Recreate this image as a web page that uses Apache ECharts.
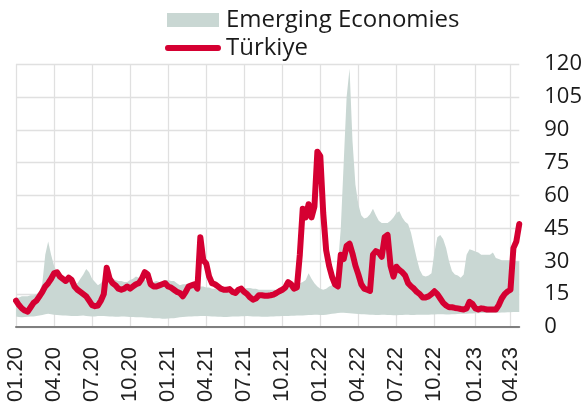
<!DOCTYPE html>
<html>
<head>
<meta charset="utf-8">
<script src="https://cdn.jsdelivr.net/npm/echarts@6/dist/echarts.min.js"></script>
<style>
  html, body { margin: 0; padding: 0; background: #fff; }
  #chart { width: 585px; height: 409px; }
</style>
</head>
<body>
<div id="chart"></div>
<script>
// weekly observations starting 01.01.2020
const startDate = '2020-01-01';

// quarter ticks on the x axis
const quarterStarts = ['2020-01-01', '2020-04-01', '2020-07-01', '2020-10-01',
  '2021-01-01', '2021-04-01', '2021-07-01', '2021-10-01',
  '2022-01-01', '2022-04-01', '2022-07-01', '2022-10-01',
  '2023-01-01', '2023-04-01'];
const tickLabels = ['01.20', '04.20', '07.20', '10.20', '01.21', '04.21', '07.21',
  '10.21', '01.22', '04.22', '07.22', '10.22', '01.23', '04.23'];

// Türkiye
const turkiye = [
  12, 10, 8.5, 7.5, 7, 9, 11, 12, 14, 16,
  18.5, 20, 22, 24.5, 25, 23, 22, 21, 22.5, 21.5,
  18.5, 17, 16, 15, 14, 12, 10, 9.5, 9.8, 12,
  15, 27, 22, 20, 19, 17.5, 17, 17.5, 18.5, 17.5,
  18.5, 19.5, 20, 22, 25, 24, 19.5, 18.5, 18.5, 19,
  19.5, 20, 18.5, 18, 17, 16, 15.5, 14, 16, 18.5,
  19, 19.5, 17.5, 41, 30.5, 29, 23, 20, 19.5, 18.5,
  17.5, 17, 17, 17.3, 16, 15.5, 17, 17.5, 16, 15,
  13.5, 12.5, 13, 14.5, 14.5, 14.3, 14.3, 14.5, 14.8, 15.5,
  16.3, 17, 18, 20.5, 19.5, 17.5, 18, 33, 54, 50,
  56, 50, 55, 80, 78, 52, 35, 28, 23, 19.5,
  18.5, 33, 31, 37, 38, 33.5, 28, 24, 19.5, 17.5,
  17, 16.5, 33, 34.6, 34, 32, 41, 42, 28, 23,
  27.5, 26, 25, 23.5, 20, 18.6, 17.5, 16, 15, 13.5,
  13.5, 14, 15, 16.3, 15, 13, 11, 9.8, 9, 9,
  8.7, 8.5, 8.2, 8, 8.5, 11.5, 10.5, 8.5, 8, 8.5,
  8.3, 8, 8, 8, 8, 10, 13, 15, 16.2, 17,
  36, 39, 47
];

// Emerging Economies: range (min / max)
const emMax = [
  13, 13.5, 14, 14, 14, 14.5, 14.5, 15, 16, 20,
  33, 39, 33, 28, 25, 22, 22, 21.5, 21, 20,
  19.5, 20, 22, 24, 26.5, 25, 22, 20.5, 19, 20,
  22, 22.5, 22, 22, 21.5, 21, 21, 20.5, 20.5, 21.5,
  22, 23, 22.5, 22, 21.5, 21, 21, 20.5, 21, 20.5,
  21, 21.5, 21.5, 21, 21, 20, 19, 19.5, 19.5, 20,
  20, 19.5, 19, 18.5, 18.5, 18, 18, 17.5, 17.5, 17,
  17, 17, 16.5, 16.5, 16.2, 16.5, 17, 17.5, 17.5, 17.8,
  17.8, 17.5, 17.5, 17, 17, 17, 17, 17, 17, 17,
  17, 17.5, 18, 18.5, 19, 19, 19.5, 20, 20.5, 21.5,
  24.5, 22, 20, 18.5, 17.5, 17, 17.5, 18.5, 19, 20,
  28, 45, 75, 105, 118, 85, 65, 56, 51, 49.5,
  50, 51.5, 54, 51, 48.5, 47.5, 47.5, 47.5, 48.5, 50,
  52, 52.8, 50, 48, 47, 43, 37, 31, 26, 23.5,
  23, 23.5, 24.5, 34, 41, 42, 40, 36, 30, 25.5,
  24, 23.5, 22.5, 24, 33, 35.5, 35, 34.5, 34, 33,
  33, 33, 33, 34, 31.5, 31, 30.5, 30.5, 30.5, 30.5,
  30.5, 30, 30
];
const emMin = [
  4.8, 4.6, 4.5, 4.6, 4.7, 4.8, 4.8, 5, 5.2, 5.5,
  5.8, 6, 5.8, 5.6, 5.5, 5.4, 5.3, 5.2, 5.1, 5,
  5, 5, 5.1, 5.2, 5, 4.9, 4.8, 4.8, 5, 5,
  5, 4.9, 4.8, 4.8, 4.7, 4.7, 4.8, 4.8, 4.7, 4.6,
  4.6, 4.5, 4.5, 4.4, 4.3, 4.2, 4.2, 4, 4, 4,
  3.8, 3.8, 3.9, 4, 4, 4.2, 4.5, 4.6, 4.7, 4.8,
  4.8, 4.9, 4.9, 5, 5, 5, 4.9, 4.8, 4.8, 4.7,
  4.7, 4.6, 4.6, 4.7, 4.8, 4.8, 4.8, 4.9, 4.9, 5,
  4.9, 4.8, 4.8, 4.8, 4.7, 4.7, 4.7, 4.8, 4.8, 4.9,
  4.9, 5, 5, 5, 5.1, 5.1, 5.2, 5.2, 5.3, 5.4,
  5.5, 5.5, 5.6, 5.6, 5.5, 5.5, 5.6, 5.8, 6, 6.2,
  6.4, 6.5, 6.5, 6.4, 6.3, 6.2, 6, 5.9, 5.8, 5.8,
  5.7, 5.6, 5.6, 5.5, 5.5, 5.6, 5.6, 5.5, 5.5, 5.4,
  5.4, 5.5, 5.5, 5.6, 5.6, 5.5, 5.5, 5.6, 5.6, 5.6,
  5.6, 5.6, 5.7, 5.7, 5.8, 5.8, 5.8, 5.7, 5.7, 5.8,
  5.8, 5.9, 6, 6, 6.1, 6.2, 6.2, 6.3, 6.3, 6.4,
  6.4, 6.4, 6.5, 6.5, 6.5, 6.5, 6.6, 6.6, 6.7, 6.7,
  6.8, 6.8, 6.8
];

const DAY = 24 * 3600 * 1000;
const t0 = new Date(startDate + 'T00:00:00Z').getTime();

// category per week
const weeks = turkiye.map((v, i) => new Date(t0 + i * 7 * DAY).toISOString().slice(0, 10));

// week index closest to each quarter start
const tickAt = {};
quarterStarts.forEach((d, k) => {
  const idx = Math.round((new Date(d + 'T00:00:00Z').getTime() - t0) / DAY / 7);
  tickAt[idx] = tickLabels[k];
});
const isTick = (idx) => tickAt[idx] !== undefined;

const bandWidth = emMax.map((v, i) => +(v - emMin[i]).toFixed(2));

const red = '#d50032';
const grey = '#c9d7d3';
const gridColor = '#e0e0e0';

// thick line with round ends for the legend
const lineIcon = 'path://M3,0 H55 A3,3 0 0 1 55,6 H3 A3,3 0 0 1 3,0 Z';

const chart = echarts.init(document.getElementById('chart'));
chart.setOption({
  animation: false,
  legend: {
    orient: 'vertical',
    left: 165,
    top: 7,
    padding: 0,
    itemGap: 2,
    itemWidth: 56,
    itemHeight: 14,
    selectedMode: false,
    textStyle: { fontFamily: 'Open Sans', fontSize: 24, color: '#1a1a1a', lineHeight: 26 },
    data: [
      { name: 'Emerging Economies', icon: 'path://M2,0 H54 V14 H2 Z', itemStyle: { color: grey } },
      { name: 'Türkiye', icon: lineIcon, itemStyle: { color: red } }
    ]
  },
  grid: { left: 16, right: 65, top: 64, bottom: 82, containLabel: false },
  xAxis: {
    type: 'category',
    data: weeks,
    boundaryGap: false,
    axisLine: { lineStyle: { color: '#7f7f7f', width: 2 } },
    axisTick: { show: false },
    axisLabel: {
      interval: (idx) => isTick(idx),
      formatter: (value, idx) => tickAt[idx] || '',
      rotate: 90,
      margin: 20,
      fontFamily: 'Liberation Sans',
      fontSize: 22,
      color: '#222'
    },
    splitLine: {
      show: true,
      interval: (idx) => isTick(idx),
      lineStyle: { color: gridColor, width: 1.3 }
    }
  },
  yAxis: {
    type: 'value',
    position: 'right',
    min: 0,
    max: 120,
    interval: 15,
    axisLine: { show: false },
    axisTick: { show: false },
    axisLabel: { margin: 25, fontFamily: 'Open Sans', fontSize: 22, color: '#1a1a1a' },
    splitLine: { lineStyle: { color: gridColor, width: 1.3 } }
  },
  series: [
    {
      name: 'emMin',
      type: 'line',
      stack: 'band',
      data: emMin,
      symbol: 'none',
      silent: true,
      lineStyle: { opacity: 0 }
    },
    {
      name: 'Emerging Economies',
      type: 'line',
      stack: 'band',
      data: bandWidth,
      symbol: 'none',
      color: grey,
      lineStyle: { width: 0 },
      areaStyle: { color: grey, opacity: 1 }
    },
    {
      name: 'Türkiye',
      type: 'line',
      data: turkiye,
      symbol: 'none',
      color: red,
      lineStyle: { width: 6, color: red, cap: 'round', join: 'round' }
    }
  ]
});
</script>
</body>
</html>
